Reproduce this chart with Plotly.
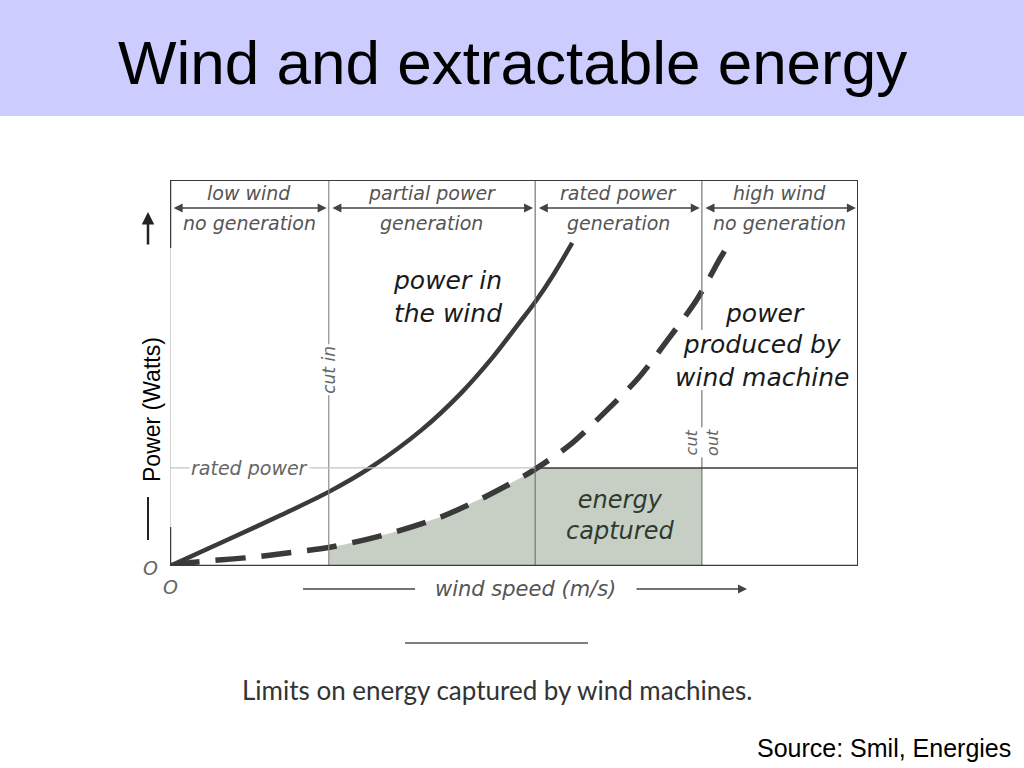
import numpy as np
import plotly.graph_objects as go

# ---------------- data (arbitrary units) ----------------
# wind speed axis runs 0..26, power axis 0..100
air_speed = [0, 2.3, 4.2, 6.0, 7.6, 9.5, 11.0, 12.2, 13.2, 13.8, 14.5, 15.2]
air_power = [0, 7.2, 13.2, 19.2, 25.6, 35.2, 44.8, 54.1, 63.0, 68.4, 75.6, 83.7]

machine_speed = [0, 0.8, 3.0, 4.8, 6.0, 6.6, 8.4, 10.2, 11.9, 13.5, 15.1, 16.4,
                 17.7, 18.8, 19.9, 20.8, 21.1]
machine_power = [0, 0.9, 2.2, 3.7, 4.8, 5.6, 8.6, 12.6, 17.9, 23.8, 31.3, 39.6,
                 48.7, 58.5, 68.9, 79.8, 83.2]

cut_in_speed = 6.0
rated_speed = 13.8
cut_out_speed = 20.1
max_speed = 26.0
rated_power = 25.4
max_power = 100.0

zone_bounds = [0.0, cut_in_speed, rated_speed, cut_out_speed, max_speed]
header_top = ["low wind", "partial power", "rated power", "high wind"]
header_bottom = ["no generation", "generation", "generation", "no generation"]

# ---------------- layout helpers (pixel -> paper / data) ----------------
L, R, T, B = 170, 858, 180, 566


def PX(p):
    return (p - L) / (R - L)


def PY(p):
    return (B - p) / (B - T)


def DX(p):
    return PX(p) * max_speed


def DY(p):
    return PY(p) * max_power


DARK = "#3a3a3a"
GREY = "#8c8c8c"
TXT = "#555555"
BOOK_FONT = "DejaVu Sans"

fig = go.Figure()

# shaded "energy captured" area
ms = np.array(machine_speed)
mp = np.array(machine_power)
cross = float(np.interp(rated_power, mp, ms))
inner = ms[(ms > cut_in_speed) & (ms < cross)]
fx = [cut_in_speed, cut_in_speed] + list(inner) + [cross, cut_out_speed, cut_out_speed, cut_in_speed]
fy = [0, float(np.interp(cut_in_speed, ms, mp))] + list(np.interp(inner, ms, mp)) + \
     [rated_power, rated_power, 0, 0]
fig.add_trace(go.Scatter(x=fx, y=fy, fill="toself", fillcolor="#c7cfc5",
                         line=dict(width=0), mode="lines", hoverinfo="skip"))

fig.add_trace(go.Scatter(x=air_speed, y=air_power, mode="lines",
                         line=dict(color=DARK, width=4.5, shape="spline", smoothing=0.8),
                         hoverinfo="skip"))
fig.add_trace(go.Scatter(x=machine_speed, y=machine_power, mode="lines",
                         line=dict(color=DARK, width=5.5, shape="spline", smoothing=0.8,
                                   dash="30px,16px"),
                         hoverinfo="skip"))

shapes = []
# title band
shapes.append(dict(type="rect", xref="paper", yref="paper", x0=PX(0), x1=PX(1024),
                   y0=PY(116), y1=PY(0), fillcolor="#ccccff", line=dict(width=0), layer="below"))


def vline(x, y0p, y1p, color, width):
    shapes.append(dict(type="line", xref="x", yref="y", x0=x, x1=x, y0=DY(y0p), y1=DY(y1p),
                       line=dict(color=color, width=width)))


def hline(y, x0, x1, color, width):
    shapes.append(dict(type="line", xref="x", yref="y", x0=x0, x1=x1, y0=y, y1=y,
                       line=dict(color=color, width=width)))


# zone dividers
vline(cut_in_speed, T, B, GREY, 1.2)
vline(rated_speed, T, B, "#777777", 1.2)
vline(cut_out_speed, T, 330, "#777777", 1.2)
vline(cut_out_speed, 390, B, "#777777", 1.2)
# outer frame
vline(0, T, B, "#aaaaaa", 1)
vline(0, T, 248, DARK, 2.5)
vline(0, 527, B, DARK, 2.5)
vline(max_speed, T, B, DARK, 2)
hline(max_power, 0, max_speed, DARK, 2)
hline(0, 0, max_speed, DARK, 2.5)
# rated power level
hline(rated_power, 0, rated_speed, "#c4c4c4", 1.2)
hline(rated_power, rated_speed, max_speed, DARK, 1.5)
# y axis mark outside the box
shapes.append(dict(type="line", xref="paper", yref="paper", x0=PX(148), x1=PX(148),
                   y0=PY(497), y1=PY(540), line=dict(color="#222222", width=2)))
# x axis label lines
shapes.append(dict(type="line", xref="paper", yref="paper", x0=PX(303), x1=PX(415),
                   y0=PY(589), y1=PY(589), line=dict(color="#444444", width=1.5)))
shapes.append(dict(type="line", xref="paper", yref="paper", x0=PX(405), x1=PX(588),
                   y0=PY(643), y1=PY(643), line=dict(color="#555555", width=1.5)))

ann = []


def label(x, y, text, size, color, ref="paper", **kw):
    d = dict(x=x, y=y, xref=ref, yref=ref if ref == "paper" else "y", text=text,
             showarrow=False, xanchor="center", yanchor="middle",
             font=dict(family=kw.pop("family", BOOK_FONT), size=size, color=color))
    d.update(kw)
    ann.append(d)


# header arrows
hdr_y = DY(208)
for a, b in zip(zone_bounds[:-1], zone_bounds[1:]):
    ann.append(dict(x=b - 0.08, y=hdr_y, ax=a + 0.08, ay=hdr_y, xref="x", yref="y",
                    axref="x", ayref="y", text="", showarrow=True, arrowhead=2,
                    arrowside="end+start", arrowsize=1.2, arrowwidth=1.5, arrowcolor="#444444"))
for a, b, t1, t2 in zip(zone_bounds[:-1], zone_bounds[1:], header_top, header_bottom):
    c = (a + b) / 2
    label(c, DY(193), "<i>" + t1 + "</i>", 19, TXT, ref="x")
    label(c, DY(223), "<i>" + t2 + "</i>", 19, TXT, ref="x")

# curve labels
label(DX(447), DY(297), "<i>power in<br>the wind</i>", 25, "#1a1a1a", ref="x")
label(DX(765), DY(313), "<i>power</i>", 25, "#1a1a1a", ref="x")
label(DX(762), DY(361), "<i>produced by<br>wind machine</i>", 25, "#1a1a1a", ref="x")
label(DX(620), DY(515), "<i>energy<br>captured</i>", 24, "#2f3a2f", ref="x")
label(DX(249), DY(468), "<i>rated power</i>", 19, "#666666", ref="x", bgcolor="white")
label(cut_in_speed, DY(370), "<i>cut in</i>", 17, "#666666", ref="x", textangle=-90,
      bgcolor="white")
label(cut_out_speed, DY(442), "<i>cut<br>out</i>", 16, "#666666", ref="x", textangle=-90,
      bgcolor="white")
label(PX(150), PY(568), "<i>O</i>", 19, "#666666")
label(PX(170), PY(587), "<i>O</i>", 19, "#666666")
# axis labels
label(PX(525), PY(589), "<i>wind speed (m/s)</i>", 21, "#555555")
ann.append(dict(x=PX(747), y=PY(589), ax=-112, ay=0, xref="paper", yref="paper",
                axref="pixel", ayref="pixel", text="", showarrow=True, arrowhead=2,
                arrowsize=1.2, arrowwidth=1.5, arrowcolor="#444444"))
ann.append(dict(x=PX(148), y=PY(212), ax=0, ay=34, xref="paper", yref="paper",
                axref="pixel", ayref="pixel", text="", showarrow=True, arrowhead=2,
                arrowsize=1, arrowwidth=2.5, arrowcolor="#222222"))
label(PX(152), PY(410), "Power (Watts)", 23, "black", textangle=-90, family="Liberation Sans")
# caption, title, source
label(PX(497), PY(690), "Limits on energy captured by wind machines.", 26, "#333333",
      family="Lato")
label(PX(512), PY(62), "Wind and extractable energy", 62, "black", family="Liberation Sans")
label(PX(1013), PY(748), "Source: Smil, Energies", 25, "black", family="Liberation Sans",
      xanchor="right")

fig.update_layout(
    width=1024, height=768, autosize=False,
    margin=dict(l=L, r=1024 - R, t=T, b=768 - B, pad=0),
    paper_bgcolor="white", plot_bgcolor="white",
    showlegend=False,
    xaxis=dict(range=[0, max_speed], visible=False, fixedrange=True),
    yaxis=dict(range=[0, max_power], visible=False, fixedrange=True),
    shapes=shapes, annotations=ann,
)

fig.write_html("out.html", config={"displayModeBar": False},
               post_script="document.body.style.margin='0';")
